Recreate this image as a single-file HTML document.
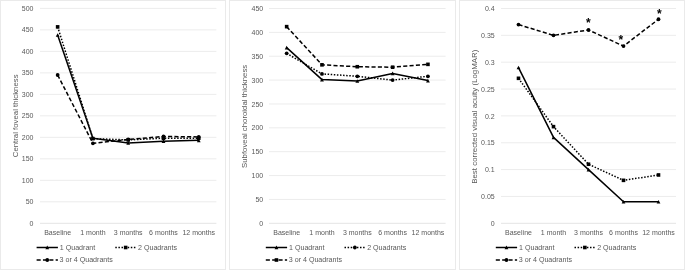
<!DOCTYPE html><html><head><meta charset="utf-8"><style>html,body{margin:0;padding:0;background:#fff;}svg{display:block;will-change:transform;}</style></head><body>
<svg width="685" height="270" viewBox="0 0 685 270" font-family='"Liberation Sans", sans-serif'>
<rect width="685" height="270" fill="#fff"/>
<rect x="0.5" y="0.5" width="225" height="269" fill="none" stroke="#eaeaea" stroke-width="1"/>
<line x1="40" x2="216.4" y1="223.3" y2="223.3" stroke="#e4e4e4" stroke-width="1"/>
<text x="33.5" y="225.9" font-size="7" fill="#595959" text-anchor="end">0</text>
<line x1="40" x2="216.4" y1="201.81" y2="201.81" stroke="#ececec" stroke-width="1"/>
<text x="33.5" y="204.41" font-size="7" fill="#595959" text-anchor="end">50</text>
<line x1="40" x2="216.4" y1="180.32" y2="180.32" stroke="#ececec" stroke-width="1"/>
<text x="33.5" y="182.92" font-size="7" fill="#595959" text-anchor="end">100</text>
<line x1="40" x2="216.4" y1="158.83" y2="158.83" stroke="#ececec" stroke-width="1"/>
<text x="33.5" y="161.43" font-size="7" fill="#595959" text-anchor="end">150</text>
<line x1="40" x2="216.4" y1="137.34" y2="137.34" stroke="#ececec" stroke-width="1"/>
<text x="33.5" y="139.94" font-size="7" fill="#595959" text-anchor="end">200</text>
<line x1="40" x2="216.4" y1="115.85" y2="115.85" stroke="#ececec" stroke-width="1"/>
<text x="33.5" y="118.45" font-size="7" fill="#595959" text-anchor="end">250</text>
<line x1="40" x2="216.4" y1="94.36" y2="94.36" stroke="#ececec" stroke-width="1"/>
<text x="33.5" y="96.96" font-size="7" fill="#595959" text-anchor="end">300</text>
<line x1="40" x2="216.4" y1="72.87" y2="72.87" stroke="#ececec" stroke-width="1"/>
<text x="33.5" y="75.47" font-size="7" fill="#595959" text-anchor="end">350</text>
<line x1="40" x2="216.4" y1="51.38" y2="51.38" stroke="#ececec" stroke-width="1"/>
<text x="33.5" y="53.98" font-size="7" fill="#595959" text-anchor="end">400</text>
<line x1="40" x2="216.4" y1="29.89" y2="29.89" stroke="#ececec" stroke-width="1"/>
<text x="33.5" y="32.49" font-size="7" fill="#595959" text-anchor="end">450</text>
<line x1="40" x2="216.4" y1="8.4" y2="8.4" stroke="#ececec" stroke-width="1"/>
<text x="33.5" y="11" font-size="7" fill="#595959" text-anchor="end">500</text>
<text x="57.64" y="234.6" font-size="7" fill="#595959" text-anchor="middle">Baseline</text>
<text x="92.92" y="234.6" font-size="7" fill="#595959" text-anchor="middle">1 month</text>
<text x="128.2" y="234.6" font-size="7" fill="#595959" text-anchor="middle">3 months</text>
<text x="163.48" y="234.6" font-size="7" fill="#595959" text-anchor="middle">6 months</text>
<text x="198.76" y="234.6" font-size="7" fill="#595959" text-anchor="middle">12 months</text>
<text transform="translate(17.6 115.85) rotate(-90)" font-size="7.8" fill="#595959" text-anchor="middle">Central foveal thickness</text>
<polyline points="57.64,35.05 92.92,138.2 128.2,142.93 163.48,141.21 198.76,140.35" fill="none" stroke="#000" stroke-width="1.5" stroke-linejoin="round"/>
<path d="M57.64 33.15L59.54 36.85L55.74 36.85Z" fill="#000"/>
<path d="M92.92 136.3L94.82 140L91.02 140Z" fill="#000"/>
<path d="M128.2 141.03L130.1 144.73L126.3 144.73Z" fill="#000"/>
<path d="M163.48 139.31L165.38 143.01L161.58 143.01Z" fill="#000"/>
<path d="M198.76 138.45L200.66 142.15L196.86 142.15Z" fill="#000"/>
<polyline points="57.64,26.88 92.92,138.63 128.2,139.92 163.48,138.2 198.76,138.2" fill="none" stroke="#000" stroke-width="1.5" stroke-linejoin="round" stroke-dasharray="1.5 1.6"/>
<rect x="55.84" y="25.08" width="3.6" height="3.6" fill="#000"/>
<rect x="91.12" y="136.83" width="3.6" height="3.6" fill="#000"/>
<rect x="126.4" y="138.12" width="3.6" height="3.6" fill="#000"/>
<rect x="161.68" y="136.4" width="3.6" height="3.6" fill="#000"/>
<rect x="196.96" y="136.4" width="3.6" height="3.6" fill="#000"/>
<polyline points="57.64,75.02 92.92,143.36 128.2,139.49 163.48,136.48 198.76,136.91" fill="none" stroke="#000" stroke-width="1.5" stroke-linejoin="round" stroke-dasharray="4.1 2.25"/>
<circle cx="57.64" cy="75.02" r="1.9" fill="#000"/>
<circle cx="92.92" cy="143.36" r="1.9" fill="#000"/>
<circle cx="128.2" cy="139.49" r="1.9" fill="#000"/>
<circle cx="163.48" cy="136.48" r="1.9" fill="#000"/>
<circle cx="198.76" cy="136.91" r="1.9" fill="#000"/>
<line x1="36.6" x2="57.9" y1="247.5" y2="247.5" stroke="#000" stroke-width="1.5"/>
<path d="M47.25 245.6L49.15 249.3L45.35 249.3Z" fill="#000"/>
<text x="59.8" y="249.8" font-size="7.1" fill="#595959">1 Quadrant</text>
<line x1="115.3" x2="136" y1="247.5" y2="247.5" stroke="#000" stroke-width="1.5" stroke-dasharray="1.5 1.6"/>
<rect x="123.85" y="245.7" width="3.6" height="3.6" fill="#000"/>
<text x="138" y="249.8" font-size="7.1" fill="#595959">2 Quadrants</text>
<line x1="36.6" x2="57.9" y1="260" y2="260" stroke="#000" stroke-width="1.5" stroke-dasharray="4.1 2.25"/>
<circle cx="47.25" cy="260" r="1.9" fill="#000"/>
<text x="59.6" y="262.3" font-size="7.1" fill="#595959">3 or 4 Quadrants</text>
<rect x="229.5" y="0.5" width="226" height="269" fill="none" stroke="#eaeaea" stroke-width="1"/>
<line x1="269" x2="445.6" y1="223.3" y2="223.3" stroke="#e4e4e4" stroke-width="1"/>
<text x="263.2" y="225.9" font-size="7" fill="#595959" text-anchor="end">0</text>
<line x1="269" x2="445.6" y1="199.43" y2="199.43" stroke="#ececec" stroke-width="1"/>
<text x="263.2" y="202.03" font-size="7" fill="#595959" text-anchor="end">50</text>
<line x1="269" x2="445.6" y1="175.57" y2="175.57" stroke="#ececec" stroke-width="1"/>
<text x="263.2" y="178.17" font-size="7" fill="#595959" text-anchor="end">100</text>
<line x1="269" x2="445.6" y1="151.7" y2="151.7" stroke="#ececec" stroke-width="1"/>
<text x="263.2" y="154.3" font-size="7" fill="#595959" text-anchor="end">150</text>
<line x1="269" x2="445.6" y1="127.83" y2="127.83" stroke="#ececec" stroke-width="1"/>
<text x="263.2" y="130.43" font-size="7" fill="#595959" text-anchor="end">200</text>
<line x1="269" x2="445.6" y1="103.97" y2="103.97" stroke="#ececec" stroke-width="1"/>
<text x="263.2" y="106.57" font-size="7" fill="#595959" text-anchor="end">250</text>
<line x1="269" x2="445.6" y1="80.1" y2="80.1" stroke="#ececec" stroke-width="1"/>
<text x="263.2" y="82.7" font-size="7" fill="#595959" text-anchor="end">300</text>
<line x1="269" x2="445.6" y1="56.23" y2="56.23" stroke="#ececec" stroke-width="1"/>
<text x="263.2" y="58.83" font-size="7" fill="#595959" text-anchor="end">350</text>
<line x1="269" x2="445.6" y1="32.37" y2="32.37" stroke="#ececec" stroke-width="1"/>
<text x="263.2" y="34.97" font-size="7" fill="#595959" text-anchor="end">400</text>
<line x1="269" x2="445.6" y1="8.5" y2="8.5" stroke="#ececec" stroke-width="1"/>
<text x="263.2" y="11.1" font-size="7" fill="#595959" text-anchor="end">450</text>
<text x="286.66" y="234.6" font-size="7" fill="#595959" text-anchor="middle">Baseline</text>
<text x="321.98" y="234.6" font-size="7" fill="#595959" text-anchor="middle">1 month</text>
<text x="357.3" y="234.6" font-size="7" fill="#595959" text-anchor="middle">3 months</text>
<text x="392.62" y="234.6" font-size="7" fill="#595959" text-anchor="middle">6 months</text>
<text x="427.94" y="234.6" font-size="7" fill="#595959" text-anchor="middle">12 months</text>
<text transform="translate(246.7 116.4) rotate(-90)" font-size="7.8" fill="#595959" text-anchor="middle">Subfoveal choroidal thickness</text>
<polyline points="286.66,47.64 321.98,79.62 357.3,81.05 392.62,73.42 427.94,80.58" fill="none" stroke="#000" stroke-width="1.5" stroke-linejoin="round"/>
<path d="M286.66 45.74L288.56 49.44L284.76 49.44Z" fill="#000"/>
<path d="M321.98 77.72L323.88 81.42L320.08 81.42Z" fill="#000"/>
<path d="M357.3 79.15L359.2 82.85L355.4 82.85Z" fill="#000"/>
<path d="M392.62 71.52L394.52 75.22L390.72 75.22Z" fill="#000"/>
<path d="M427.94 78.68L429.84 82.38L426.04 82.38Z" fill="#000"/>
<polyline points="286.66,53.37 321.98,73.89 357.3,76.28 392.62,80.1 427.94,76.28" fill="none" stroke="#000" stroke-width="1.5" stroke-linejoin="round" stroke-dasharray="1.5 1.6"/>
<circle cx="286.66" cy="53.37" r="1.9" fill="#000"/>
<circle cx="321.98" cy="73.89" r="1.9" fill="#000"/>
<circle cx="357.3" cy="76.28" r="1.9" fill="#000"/>
<circle cx="392.62" cy="80.1" r="1.9" fill="#000"/>
<circle cx="427.94" cy="76.28" r="1.9" fill="#000"/>
<polyline points="286.66,26.64 321.98,64.83 357.3,66.73 392.62,67.21 427.94,64.35" fill="none" stroke="#000" stroke-width="1.5" stroke-linejoin="round" stroke-dasharray="4.1 2.25"/>
<rect x="284.86" y="24.84" width="3.6" height="3.6" fill="#000"/>
<rect x="320.18" y="63.03" width="3.6" height="3.6" fill="#000"/>
<rect x="355.5" y="64.93" width="3.6" height="3.6" fill="#000"/>
<rect x="390.82" y="65.41" width="3.6" height="3.6" fill="#000"/>
<rect x="426.14" y="62.55" width="3.6" height="3.6" fill="#000"/>
<line x1="265.8" x2="287.1" y1="247.5" y2="247.5" stroke="#000" stroke-width="1.5"/>
<path d="M276.45 245.6L278.35 249.3L274.55 249.3Z" fill="#000"/>
<text x="289" y="249.8" font-size="7.1" fill="#595959">1 Quadrant</text>
<line x1="344.5" x2="365.2" y1="247.5" y2="247.5" stroke="#000" stroke-width="1.5" stroke-dasharray="1.5 1.6"/>
<circle cx="354.85" cy="247.5" r="1.9" fill="#000"/>
<text x="367.2" y="249.8" font-size="7.1" fill="#595959">2 Quadrants</text>
<line x1="265.8" x2="287.1" y1="260" y2="260" stroke="#000" stroke-width="1.5" stroke-dasharray="4.1 2.25"/>
<rect x="274.65" y="258.2" width="3.6" height="3.6" fill="#000"/>
<text x="288.8" y="262.3" font-size="7.1" fill="#595959">3 or 4 Quadrants</text>
<rect x="459.5" y="0.5" width="225" height="269" fill="none" stroke="#eaeaea" stroke-width="1"/>
<line x1="501" x2="676" y1="223.3" y2="223.3" stroke="#e4e4e4" stroke-width="1"/>
<text x="494.7" y="225.9" font-size="7" fill="#595959" text-anchor="end">0</text>
<line x1="501" x2="676" y1="196.45" y2="196.45" stroke="#ececec" stroke-width="1"/>
<text x="494.7" y="199.05" font-size="7" fill="#595959" text-anchor="end">0.05</text>
<line x1="501" x2="676" y1="169.6" y2="169.6" stroke="#ececec" stroke-width="1"/>
<text x="494.7" y="172.2" font-size="7" fill="#595959" text-anchor="end">0.1</text>
<line x1="501" x2="676" y1="142.75" y2="142.75" stroke="#ececec" stroke-width="1"/>
<text x="494.7" y="145.35" font-size="7" fill="#595959" text-anchor="end">0.15</text>
<line x1="501" x2="676" y1="115.9" y2="115.9" stroke="#ececec" stroke-width="1"/>
<text x="494.7" y="118.5" font-size="7" fill="#595959" text-anchor="end">0.2</text>
<line x1="501" x2="676" y1="89.05" y2="89.05" stroke="#ececec" stroke-width="1"/>
<text x="494.7" y="91.65" font-size="7" fill="#595959" text-anchor="end">0.25</text>
<line x1="501" x2="676" y1="62.2" y2="62.2" stroke="#ececec" stroke-width="1"/>
<text x="494.7" y="64.8" font-size="7" fill="#595959" text-anchor="end">0.3</text>
<line x1="501" x2="676" y1="35.35" y2="35.35" stroke="#ececec" stroke-width="1"/>
<text x="494.7" y="37.95" font-size="7" fill="#595959" text-anchor="end">0.35</text>
<line x1="501" x2="676" y1="8.5" y2="8.5" stroke="#ececec" stroke-width="1"/>
<text x="494.7" y="11.1" font-size="7" fill="#595959" text-anchor="end">0.4</text>
<text x="518.5" y="234.6" font-size="7" fill="#595959" text-anchor="middle">Baseline</text>
<text x="553.5" y="234.6" font-size="7" fill="#595959" text-anchor="middle">1 month</text>
<text x="588.5" y="234.6" font-size="7" fill="#595959" text-anchor="middle">3 months</text>
<text x="623.5" y="234.6" font-size="7" fill="#595959" text-anchor="middle">6 months</text>
<text x="658.5" y="234.6" font-size="7" fill="#595959" text-anchor="middle">12 months</text>
<text transform="translate(477 116.7) rotate(-90)" font-size="7.9" fill="#595959" text-anchor="middle">Best corrected visual acuity (LogMAR)</text>
<polyline points="518.5,67.57 553.5,137.38 588.5,169.6 623.5,201.82 658.5,201.82" fill="none" stroke="#000" stroke-width="1.5" stroke-linejoin="round"/>
<path d="M518.5 65.67L520.4 69.37L516.6 69.37Z" fill="#000"/>
<path d="M553.5 135.48L555.4 139.18L551.6 139.18Z" fill="#000"/>
<path d="M588.5 167.7L590.4 171.4L586.6 171.4Z" fill="#000"/>
<path d="M623.5 199.92L625.4 203.62L621.6 203.62Z" fill="#000"/>
<path d="M658.5 199.92L660.4 203.62L656.6 203.62Z" fill="#000"/>
<polyline points="518.5,78.31 553.5,126.64 588.5,164.23 623.5,180.34 658.5,174.97" fill="none" stroke="#000" stroke-width="1.5" stroke-linejoin="round" stroke-dasharray="1.5 1.6"/>
<rect x="516.7" y="76.51" width="3.6" height="3.6" fill="#000"/>
<rect x="551.7" y="124.84" width="3.6" height="3.6" fill="#000"/>
<rect x="586.7" y="162.43" width="3.6" height="3.6" fill="#000"/>
<rect x="621.7" y="178.54" width="3.6" height="3.6" fill="#000"/>
<rect x="656.7" y="173.17" width="3.6" height="3.6" fill="#000"/>
<polyline points="518.5,24.61 553.5,35.35 588.5,29.98 623.5,46.09 658.5,19.24" fill="none" stroke="#000" stroke-width="1.5" stroke-linejoin="round" stroke-dasharray="4.1 2.25"/>
<circle cx="518.5" cy="24.61" r="1.9" fill="#000"/>
<circle cx="553.5" cy="35.35" r="1.9" fill="#000"/>
<circle cx="588.5" cy="29.98" r="1.9" fill="#000"/>
<circle cx="623.5" cy="46.09" r="1.9" fill="#000"/>
<circle cx="658.5" cy="19.24" r="1.9" fill="#000"/>
<text x="588.3" y="26.7" font-size="12" font-weight="bold" fill="#000" text-anchor="middle">*</text>
<text x="620.9" y="43.7" font-size="12" font-weight="bold" fill="#000" text-anchor="middle">*</text>
<text x="659.4" y="18" font-size="12" font-weight="bold" fill="#000" text-anchor="middle">*</text>
<line x1="495.8" x2="517.1" y1="247.5" y2="247.5" stroke="#000" stroke-width="1.5"/>
<path d="M506.45 245.6L508.35 249.3L504.55 249.3Z" fill="#000"/>
<text x="519" y="249.8" font-size="7.1" fill="#595959">1 Quadrant</text>
<line x1="574.5" x2="595.2" y1="247.5" y2="247.5" stroke="#000" stroke-width="1.5" stroke-dasharray="1.5 1.6"/>
<rect x="583.05" y="245.7" width="3.6" height="3.6" fill="#000"/>
<text x="597.2" y="249.8" font-size="7.1" fill="#595959">2 Quadrants</text>
<line x1="495.8" x2="517.1" y1="260" y2="260" stroke="#000" stroke-width="1.5" stroke-dasharray="4.1 2.25"/>
<circle cx="506.45" cy="260" r="1.9" fill="#000"/>
<text x="518.8" y="262.3" font-size="7.1" fill="#595959">3 or 4 Quadrants</text>
</svg></body></html>
